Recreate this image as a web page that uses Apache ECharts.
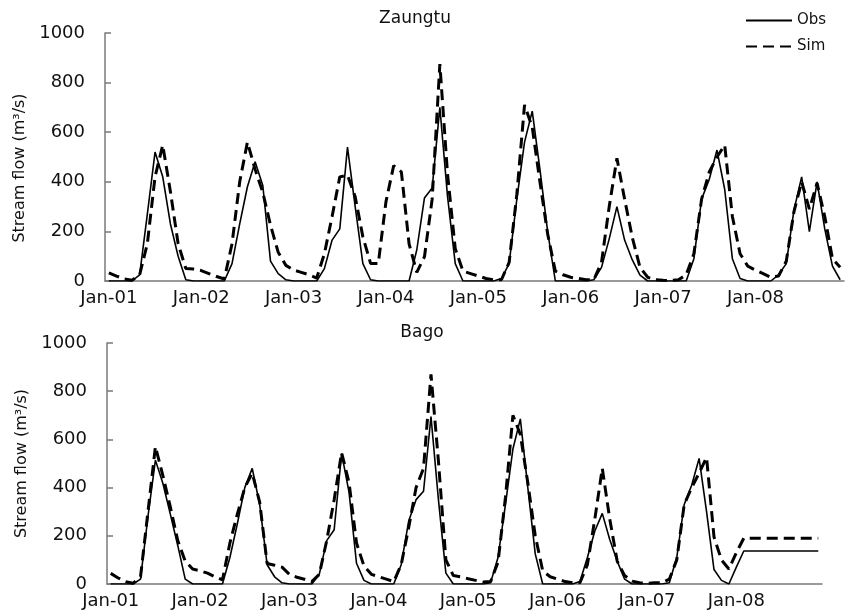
<!DOCTYPE html>
<html><head><meta charset="utf-8">
<script src="https://cdn.jsdelivr.net/npm/echarts@6/dist/echarts.min.js"></script>
<style>html,body{margin:0;padding:0;background:#fff}#c{width:852px;height:616px}</style>
</head><body><div id="c"></div>
<script>
const monthNames = ['Jan','Feb','Mar','Apr','May','Jun','Jul','Aug','Sep','Oct','Nov','Dec'];
const years = ['01','02','03','04','05','06','07','08'];
const categories = [];
years.forEach(y => monthNames.forEach(m => categories.push(m + '-' + y)));
const yTicks = [0, 200, 400, 600, 800, 1000];

const zaungtuObs = [
  0,0,0,0,25,270,520,420,230,100,5,0,
  0,0,0,0,70,230,380,481,385,80,30,5,
  0,0,0,0,50,165,210,540,300,70,5,0,
  0,0,0,0,125,335,375,700,340,70,0,0,
  0,0,0,10,70,330,560,685,450,200,0,0,
  0,0,0,5,55,170,300,165,85,24,0,0,
  0,0,0,0,90,330,410,528,370,90,10,0,
  0,0,0,25,70,286,420,199,400,210,60,5
];
const zaungtuSim = [
  33,20,8,3,25,150,420,548,360,150,50,48,
  42,30,18,8,150,400,560,450,357,225,116,63,
  44,35,25,12,110,260,420,427,340,178,71,70,
  320,465,440,150,35,98,330,875,430,130,40,30,
  20,10,5,5,75,350,710,620,400,190,40,25,
  15,10,5,5,75,300,495,330,175,55,15,5,
  3,2,5,25,110,330,440,500,548,260,110,60,
  44,30,15,20,80,280,400,290,395,260,90,55
];
const bagoObs = [
  0,0,0,0,20,280,514,418,290,160,20,0,
  0,0,0,0,110,250,400,480,330,80,30,5,
  0,0,0,0,40,180,225,542,380,86,15,0,
  0,0,0,80,260,350,385,695,350,45,0,0,
  0,0,0,5,110,330,560,685,400,125,0,0,
  0,0,0,10,110,220,293,185,95,20,0,0,
  0,0,0,5,110,330,410,521,300,60,15,0,
  70,137,137,137,137,137,137,137,137,137,137,137
];
const bagoSim = [
  44,25,10,3,30,300,570,450,320,180,95,62,
  55,45,30,17,170,290,400,460,340,85,78,70,
  40,28,20,10,40,180,350,545,420,170,75,40,
  30,20,10,80,233,400,480,870,510,100,35,30,
  22,15,8,10,90,360,700,620,420,200,55,30,
  20,10,5,5,80,270,480,270,95,35,12,5,
  3,5,5,20,100,330,400,460,525,195,100,62,
  130,190,190,190,190,190,190,190,190,190,190,190
];

const FONT = 'DejaVu Sans';
const axisColor = '#7a7a7a';
const textColor = '#111';

function xAxis(gridIndex) {
  return {
    type: 'category', gridIndex, data: categories, boundaryGap: true,
    axisLine: { lineStyle: { color: axisColor, width: 1.5 } },
    axisTick: { inside: true, length: 5, interval: 11, lineStyle: { color: axisColor, width: 1.5 } },
    axisLabel: { interval: 11, margin: 8, fontFamily: FONT, fontSize: 18, color: textColor },
    splitLine: { show: false }
  };
}
function yAxis(gridIndex, pad) {
  return {
    type: 'value', gridIndex, min: yTicks[0], max: yTicks[yTicks.length - 1], interval: 200,
    name: 'Stream flow (m³/s)', nameLocation: 'middle', nameGap: 68,
    nameTextStyle: { fontFamily: FONT, fontSize: 16, color: textColor, padding: pad },
    axisLine: { show: true, lineStyle: { color: axisColor, width: 1.5 } },
    axisTick: { show: true, inside: true, length: 6, lineStyle: { color: axisColor, width: 1.5 } },
    axisLabel: { margin: 20, fontFamily: FONT, fontSize: 18, color: textColor,
      formatter: v => String(v) },
    splitLine: { show: false }
  };
}
function obsSeries(data, idx) {
  return { name: 'Obs', type: 'line', xAxisIndex: idx, yAxisIndex: idx, data, symbol: 'none',
    lineStyle: { color: '#000', width: 1.6 }, itemStyle: { color: '#000' }, animation: false };
}
function simSeries(data, idx) {
  return { name: 'Sim', type: 'line', xAxisIndex: idx, yAxisIndex: idx, data, symbol: 'none',
    lineStyle: { color: '#000', width: 3, type: [11, 6] }, itemStyle: { color: '#000' }, animation: false };
}

const chart = echarts.init(document.getElementById('c'));
chart.setOption({
  backgroundColor: '#fff',
  animation: false,
  title: [
    { text: 'Zaungtu', left: 415, top: 10, textAlign: 'center', padding: 0,
      textStyle: { fontFamily: FONT, fontSize: 17, fontWeight: 'normal', color: textColor } },
    { text: 'Bago', left: 422, top: 324, textAlign: 'center', padding: 0,
      textStyle: { fontFamily: FONT, fontSize: 17, fontWeight: 'normal', color: textColor } }
  ],
  legend: {
    data: ['Obs', 'Sim'], orient: 'vertical', left: 745, top: 13, padding: 0,
    itemWidth: 46, itemHeight: 14, itemGap: 11,
    itemStyle: { opacity: 0 },
    textStyle: { fontFamily: FONT, fontSize: 15, color: textColor }
  },
  grid: [
    { left: 105, right: 8, top: 33, height: 248 },
    { left: 107, right: 30, top: 343, height: 241 }
  ],
  xAxis: [xAxis(0), xAxis(1)],
  yAxis: [yAxis(0, [0, 22, 0, 0]), yAxis(1, 0)],
  series: [
    obsSeries(zaungtuObs, 0), simSeries(zaungtuSim, 0),
    obsSeries(bagoObs, 1), simSeries(bagoSim, 1)
  ]
});
</script>
</body></html>
